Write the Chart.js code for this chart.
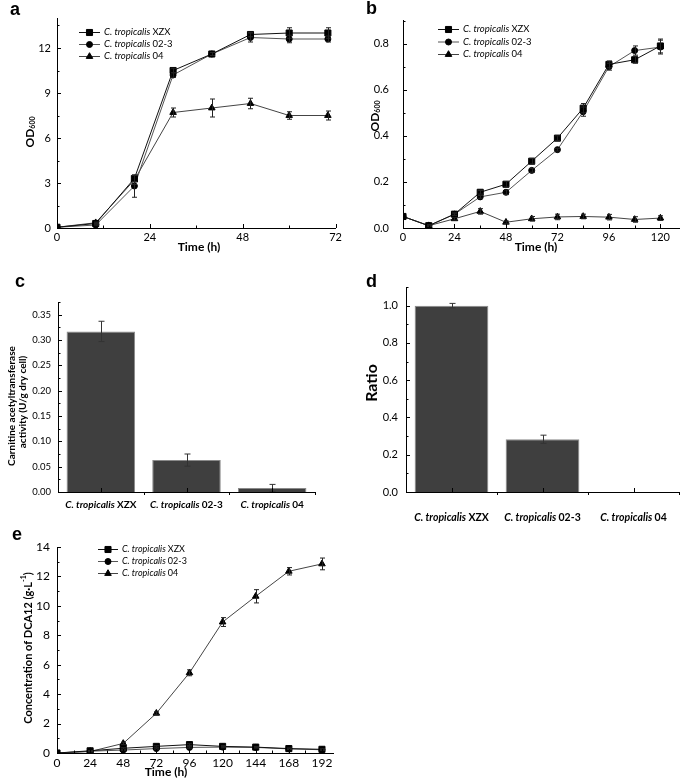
<!DOCTYPE html>
<html lang="en">
<head>
<meta charset="UTF-8">
<title>C. tropicalis growth, enzyme activity and DCA12 production</title>
<script src="https://cdn.jsdelivr.net/npm/chart.js@4.4.0/dist/chart.umd.min.js"></script>
<style>
  body { margin: 0; background: #fff; }
  #fig { position: relative; width: 685px; height: 783px; overflow: hidden; }
  canvas { position: absolute; }
  .tag { position: absolute; font: bold 18px "Liberation Sans", Arial, sans-serif; line-height: 18px; color: #000; }
</style>
</head>
<body>
<div id="fig">
  <canvas id="chartA" width="345" height="260" style="left:0;top:0"></canvas>
  <canvas id="chartB" width="340" height="260" style="left:345px;top:0"></canvas>
  <canvas id="chartC" width="345" height="265" style="left:0;top:260px"></canvas>
  <canvas id="chartD" width="340" height="265" style="left:345px;top:260px"></canvas>
  <canvas id="chartE" width="345" height="258" style="left:0;top:525px"></canvas>
  <div class="tag" style="left:10px;top:0">a</div>
  <div class="tag" style="left:366px;top:-1px">b</div>
  <div class="tag" style="left:15px;top:272px">c</div>
  <div class="tag" style="left:366px;top:272px">d</div>
  <div class="tag" style="left:12px;top:525px">e</div>
</div>
<script>
// ---- data ----
const genus = 'C. tropicalis';
const strainIds = ['XZX', '02-3', '04'];

// a: OD600 over 72 h
const timeA = [0, 10, 20, 30, 40, 50, 60, 70];
const odA_XZX = [0.05, 0.3, 3.3, 10.5, 11.6, 12.9, 13.0, 13.0];
const odA_023 = [0.05, 0.2, 2.8, 10.2, 11.6, 12.7, 12.6, 12.6];
const odA_04 = [0.05, 0.35, 3.2, 7.7, 8.0, 8.3, 7.5, 7.5];
const errA_XZX = [0, 0.05, 0.2, 0.15, 0.1, 0.15, 0.35, 0.35];
const errA_023 = [0, 0.05, 0.75, 0.15, 0.1, 0.3, 0.25, 0.2];
const errA_04 = [0, 0.05, 0.3, 0.3, 0.6, 0.35, 0.25, 0.3];

// b: OD600 over 120 h
const timeB = [0, 12, 24, 36, 48, 60, 72, 84, 96, 108, 120];
const odB_XZX = [0.05, 0.01, 0.06, 0.155, 0.19, 0.29, 0.39, 0.52, 0.71, 0.73, 0.79];
const odB_023 = [0.05, 0.01, 0.06, 0.135, 0.155, 0.25, 0.34, 0.505, 0.70, 0.77, 0.785];
const odB_04 = [0.05, 0.01, 0.04, 0.072, 0.025, 0.04, 0.048, 0.05, 0.047, 0.037, 0.043];
const errB_XZX = [0, 0.003, 0.005, 0.008, 0.012, 0.012, 0.01, 0.02, 0.015, 0.015, 0.03];
const errB_023 = [0, 0.003, 0.005, 0.006, 0.01, 0.008, 0.006, 0.02, 0.015, 0.02, 0.03];
const errB_04 = [0, 0.003, 0.006, 0.012, 0.005, 0.01, 0.012, 0.01, 0.012, 0.012, 0.01];

// c: carnitine acetyltransferase activity
const activity = [0.317, 0.063, 0.008];
const errActivity = [0.02, 0.012, 0.007];

// d: ratio
const ratio = [1.0, 0.283, 0];
const errRatio = [0.012, 0.022, 0];

// e: DCA12 concentration
const timeE = [0, 24, 48, 72, 96, 120, 144, 168, 192];
const dcaXZX = [0, 0.15, 0.32, 0.45, 0.57, 0.45, 0.4, 0.3, 0.25];
const dca023 = [0, 0.12, 0.2, 0.3, 0.38, 0.4, 0.38, 0.28, 0.22];
const dca04 = [0, 0.1, 0.65, 2.7, 5.45, 8.9, 10.65, 12.35, 12.85];
const errE_XZX = [0, 0.02, 0.05, 0.05, 0.06, 0.05, 0.05, 0.04, 0.04];
const errE_023 = [0, 0.02, 0.04, 0.04, 0.05, 0.05, 0.04, 0.04, 0.04];
const errE_04 = [0, 0.03, 0.08, 0.1, 0.2, 0.3, 0.45, 0.25, 0.4];

// ---- styles / helpers ----
const FONT = 'Lato, "Open Sans", sans-serif';
const seriesStyle = [
  { pointStyle: 'rect', radius: 4.3, color: '#111' },
  { pointStyle: 'circle', radius: 3, color: '#555' },
  { pointStyle: 'triangle', radius: 3.8, color: '#444' }
];

function textRun(ctx, parts, x, y, rot, align) {
  ctx.save();
  ctx.translate(x, y);
  if (rot) ctx.rotate(rot);
  let total = 0;
  parts.forEach(p => { ctx.font = p.font; p.w = ctx.measureText(p.t).width; total += p.w; });
  let cx = align === 'left' ? 0 : -total / 2;
  ctx.textBaseline = 'middle';
  ctx.textAlign = 'left';
  ctx.fillStyle = '#000';
  parts.forEach(p => { ctx.font = p.font; ctx.fillText(p.t, cx, p.dy || 0); cx += p.w; });
  ctx.restore();
}

function strainParts(i, size, bold) {
  const b = bold ? 'bold ' : '';
  return [{ t: genus + ' ', font: 'italic ' + b + size + 'px ' + FONT }, { t: strainIds[i], font: b + size + 'px ' + FONT }];
}

function inTicks(chart, axis, from, to, major, minor) {
  const s = chart.scales[axis], a = chart.chartArea, ctx = chart.ctx;
  ctx.save();
  ctx.strokeStyle = '#000';
  ctx.lineWidth = 1;
  ctx.beginPath();
  const n = Math.round((to - from) / minor);
  for (let i = 0; i <= n; i++) {
    const v = from + i * minor;
    const isMajor = Math.abs(v / major - Math.round(v / major)) < 1e-6;
    const len = isMajor ? 4 : 2.5;
    const p = Math.round(s.getPixelForValue(v)) + 0.5;
    if (axis === 'x') { ctx.moveTo(p, a.bottom); ctx.lineTo(p, a.bottom - len); }
    else { ctx.moveTo(a.left, p); ctx.lineTo(a.left + len, p); }
  }
  ctx.stroke();
  ctx.restore();
}

function drawErrors(chart, di, errs, color, cap) {
  const meta = chart.getDatasetMeta(di), ys = chart.scales.y, ctx = chart.ctx;
  const vals = chart.data.datasets[di].data;
  ctx.save();
  ctx.strokeStyle = color;
  ctx.lineWidth = 1;
  ctx.beginPath();
  meta.data.forEach((el, i) => {
    const e = errs[i];
    if (!e) return;
    const v = typeof vals[i] === 'object' ? vals[i].y : vals[i];
    const x = Math.round(el.x) + 0.5;
    const y1 = ys.getPixelForValue(v + e), y2 = ys.getPixelForValue(v - e);
    ctx.moveTo(x, y1); ctx.lineTo(x, y2);
    ctx.moveTo(x - cap, y1); ctx.lineTo(x + cap, y1);
    ctx.moveTo(x - cap, y2); ctx.lineTo(x + cap, y2);
  });
  ctx.stroke();
  ctx.restore();
}

function drawLegend(chart, lg) {
  const ctx = chart.ctx;
  chart.data.datasets.forEach((ds, i) => {
    const yy = lg.y + i * lg.dy;
    ctx.save();
    ctx.strokeStyle = ds.borderColor;
    ctx.lineWidth = 1;
    ctx.beginPath();
    ctx.moveTo(lg.x, yy + 0.5); ctx.lineTo(lg.x + lg.w, yy + 0.5);
    ctx.stroke();
    ctx.fillStyle = '#000';
    ctx.strokeStyle = '#000';
    Chart.helpers.drawPoint(ctx, { pointStyle: ds.pointStyle, radius: ds.pointRadius, rotation: 0, borderWidth: 1 }, lg.x + lg.w / 2, yy + 0.5);
    ctx.restore();
    textRun(ctx, strainParts(i, lg.size, false), lg.x + lg.w + 4, yy, 0, 'left');
  });
}

function linAxis(min, max, step, o) {
  return {
    type: 'linear', min, max,
    afterFit: s => { if (s.isHorizontal()) s.height = o.size; else s.width = o.size; },
    grid: { display: false, drawTicks: false },
    border: { color: '#000', width: 1 },
    ticks: {
      stepSize: step, includeBounds: false, padding: o.pad, autoSkip: false, maxRotation: 0,
      color: '#000', font: { family: FONT, size: o.font },
      callback: o.fmt || (v => v)
    }
  };
}

function lineChart(id, spec) {
  return new Chart(document.getElementById(id), {
    type: 'line',
    data: {
      datasets: spec.series.map((s, i) => ({
        label: genus + ' ' + strainIds[i],
        data: spec.time.map((t, j) => ({ x: t, y: s[j] })),
        errs: spec.errs[i],
        borderColor: seriesStyle[i].color, borderWidth: 1,
        pointStyle: seriesStyle[i].pointStyle, pointRadius: seriesStyle[i].radius,
        pointBackgroundColor: '#000', pointBorderColor: '#000', pointBorderWidth: 1,
        tension: 0, fill: false
      }))
    },
    options: {
      responsive: false, animation: false, devicePixelRatio: 1,
      layout: { padding: spec.pad },
      plugins: { legend: { display: false }, tooltip: { enabled: false } },
      scales: { x: spec.x, y: spec.y }
    },
    plugins: [{
      id: 'fig',
      afterDatasetsDraw(chart) {
        chart.data.datasets.forEach((ds, i) => drawErrors(chart, i, ds.errs, '#222', 2.5));
      },
      afterDraw(chart) {
        inTicks(chart, 'x', ...spec.xTicks);
        inTicks(chart, 'y', ...spec.yTicks);
        drawLegend(chart, spec.legend);
        spec.titles(chart.ctx);
      }
    }]
  });
}

function barChart(id, spec) {
  return new Chart(document.getElementById(id), {
    type: 'bar',
    data: {
      labels: strainIds.map(s => genus + ' ' + s),
      datasets: [{
        data: spec.values, errs: spec.errs,
        backgroundColor: '#3f3f3f', borderColor: '#8a8a8a', borderWidth: 1,
        categoryPercentage: 1, barPercentage: spec.barPct
      }]
    },
    options: {
      responsive: false, animation: false, devicePixelRatio: 1,
      layout: { padding: spec.pad },
      plugins: { legend: { display: false }, tooltip: { enabled: false } },
      scales: {
        x: {
          type: 'category', offset: true,
          afterFit: s => { s.height = spec.xSize; },
          grid: { display: false, drawTicks: false },
          border: { color: '#000', width: 1 },
          ticks: { display: false }
        },
        y: spec.y
      }
    },
    plugins: [{
      id: 'fig',
      afterDraw(chart) {
        const ctx = chart.ctx, xs = chart.scales.x, a = chart.chartArea;
        drawErrors(chart, 0, spec.errs, '#333', 3);
        inTicks(chart, 'y', ...spec.yTicks);
        ctx.save();
        ctx.strokeStyle = '#000';
        ctx.beginPath();
        strainIds.forEach((s, i) => {
          const c = Math.round(xs.getPixelForValue(i)) + 0.5;
          ctx.moveTo(c, a.bottom); ctx.lineTo(c, a.bottom - 4);
          const b = Math.round(xs.getPixelForValue(i + 0.5)) + 0.5;
          ctx.moveTo(b, a.bottom); ctx.lineTo(b, a.bottom + 3);
        });
        ctx.stroke();
        ctx.restore();
        strainIds.forEach((s, i) => textRun(ctx, strainParts(i, spec.labelSize, true), xs.getPixelForValue(i), spec.labelY, 0, 'center'));
        spec.titles(ctx);
      }
    }]
  });
}

// ---- a ----
lineChart('chartA', {
  time: timeA, series: [odA_XZX, odA_023, odA_04], errs: [errA_XZX, errA_023, errA_04],
  pad: { top: 18, right: 6, left: 0, bottom: 0 },
  x: linAxis(0, 72, 24, { size: 32, pad: 3, font: 11 }),
  y: linAxis(0, 14, 3, { size: 57, pad: 6, font: 11 }),
  xTicks: [0, 72, 24, 12], yTicks: [0, 13.5, 3, 1.5],
  legend: { x: 79, y: 32, dy: 12, w: 21, size: 9.5 },
  titles(ctx) {
    textRun(ctx, [{ t: 'OD', font: 'bold 12px ' + FONT }, { t: '600', font: 'bold 7px ' + FONT, dy: 3 }], 30, 132, -Math.PI / 2, 'center');
    textRun(ctx, [{ t: 'Time (h)', font: 'bold 12px ' + FONT }], 199, 247, 0, 'center');
  }
});

// ---- b ----
lineChart('chartB', {
  time: timeB, series: [odB_XZX, odB_023, odB_04], errs: [errB_XZX, errB_023, errB_04],
  pad: { top: 19, right: 2, left: 0, bottom: 0 },
  x: linAxis(0, 129, 24, { size: 32, pad: 3, font: 11 }),
  y: linAxis(0, 0.9, 0.2, { size: 58, pad: 14, font: 11, fmt: v => v.toFixed(1) }),
  xTicks: [0, 120, 24, 12], yTicks: [0, 0.9, 0.2, 0.1],
  legend: { x: 93, y: 29, dy: 12.5, w: 21, size: 9.5 },
  titles(ctx) {
    textRun(ctx, [{ t: 'OD', font: 'bold 12px ' + FONT }, { t: '600', font: 'bold 7px ' + FONT, dy: 3 }], 30, 116, -Math.PI / 2, 'center');
    textRun(ctx, [{ t: 'Time (h)', font: 'bold 12px ' + FONT }], 191, 247, 0, 'center');
  }
});

// ---- c ----
barChart('chartC', {
  values: activity, errs: errActivity, barPct: 0.8,
  pad: { top: 42, right: 30, left: 0, bottom: 0 }, xSize: 33,
  y: linAxis(0, 0.375, 0.05, { size: 58, pad: 7, font: 9.5, fmt: v => v.toFixed(2) }),
  yTicks: [0, 0.375, 0.05, 0.025],
  labelSize: 10, labelY: 245,
  titles(ctx) {
    textRun(ctx, [{ t: 'Carnitine acetyltransferase', font: 'bold 10px ' + FONT }], 12, 146, -Math.PI / 2, 'center');
    textRun(ctx, [{ t: 'activity (U/g dry cell)', font: 'bold 10px ' + FONT }], 23, 142, -Math.PI / 2, 'center');
  }
});

// ---- d ----
barChart('chartD', {
  values: ratio, errs: errRatio, barPct: 0.81,
  pad: { top: 27, right: 6, left: 0, bottom: 0 }, xSize: 33,
  y: linAxis(0, 1.1, 0.2, { size: 61, pad: 8, font: 11, fmt: v => v.toFixed(1) }),
  yTicks: [0, 1.1, 0.2, 0.1],
  labelSize: 10.5, labelY: 258,
  titles(ctx) {
    textRun(ctx, [{ t: 'Ratio', font: 'bold 16px ' + FONT }], 27, 123, -Math.PI / 2, 'center');
  }
});

// ---- e ----
lineChart('chartE', {
  time: timeE, series: [dcaXZX, dca023, dca04], errs: [errE_XZX, errE_023, errE_04],
  pad: { top: 22, right: 12, left: 0, bottom: 0 },
  x: linAxis(0, 200, 24, { size: 30, pad: 3, font: 12 }),
  y: linAxis(0, 14, 2, { size: 57, pad: 7, font: 12 }),
  xTicks: [0, 192, 24, 12], yTicks: [0, 14, 2, 1],
  legend: { x: 98, y: 24, dy: 12, w: 20, size: 9 },
  titles(ctx) {
    textRun(ctx, [
      { t: 'Concentration of DCA12 (g\u00b7L', font: 'bold 11px ' + FONT },
      { t: '-1', font: 'bold 7px ' + FONT, dy: -4 },
      { t: ')', font: 'bold 11px ' + FONT }
    ], 28, 123, -Math.PI / 2, 'center');
    textRun(ctx, [{ t: 'Time (h)', font: 'bold 12px ' + FONT }], 166, 247, 0, 'center');
  }
});
</script>
</body>
</html>
